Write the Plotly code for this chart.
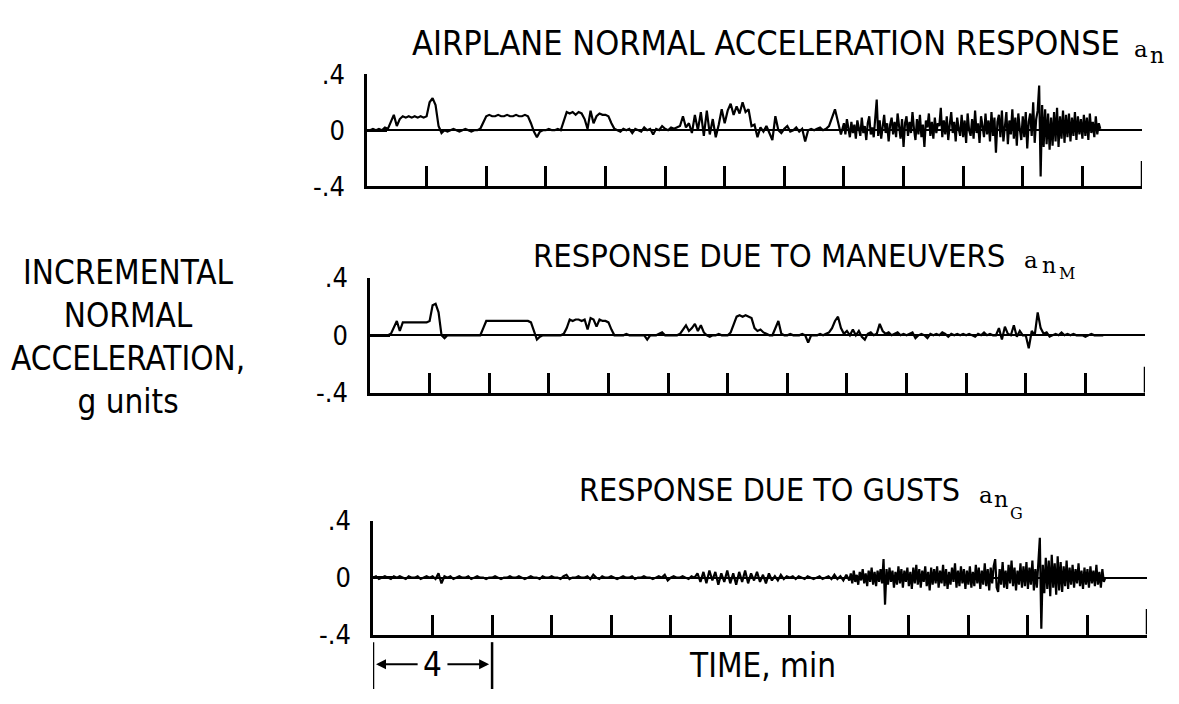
import numpy as np
import plotly.graph_objects as go

W, H = 1179, 704

# time grids (min)
time_full = np.round(np.arange(0, 24.65, 0.1), 2)        # 0.0 .. 24.6, 0.1 step
time_coarse = np.round(np.arange(0, 15.95, 0.1), 2)      # 0.0 .. 15.9, 0.1 step
time_fine = np.round(np.arange(16.0, 24.625, 0.05), 2)   # 16.0 .. 24.6, 0.05 step

# Panel 1: airplane normal acceleration response a_n (g units)
total_resp_coarse = [
    0.00, 0.00, 0.01, 0.00, 0.01, 0.00, 0.02, 0.01, 0.06, 0.11,
    0.03, 0.08, 0.10, 0.09, 0.10, 0.09, 0.10, 0.09, 0.10, 0.09,
    0.10, 0.20, 0.23, 0.18, 0.03, -0.02, 0.00, -0.01, 0.00, 0.01,
    0.00, -0.01, 0.00, 0.01, 0.00, -0.01, 0.00, 0.00, 0.01, 0.06,
    0.10, 0.11, 0.10, 0.10, 0.11, 0.10, 0.10, 0.11, 0.10, 0.10,
    0.11, 0.10, 0.10, 0.11, 0.10, 0.05, -0.01, -0.05, -0.01, 0.00,
    0.00, 0.01, 0.00, 0.00, 0.01, 0.00, 0.07, 0.13, 0.12, 0.13,
    0.11, 0.13, 0.12, 0.08, 0.01, 0.14, 0.05, 0.10, 0.12, 0.11,
    0.11, 0.10, 0.05, 0.01, 0.00, -0.01, 0.01, 0.00, 0.01, -0.02,
    0.01, 0.00, -0.01, 0.02, 0.00, 0.01, -0.03, 0.01, 0.00, 0.03,
    0.01, 0.00, 0.02, 0.01, 0.02, 0.03, 0.10, 0.02, 0.05, -0.02,
    0.11, 0.00, 0.13, -0.04, 0.14, -0.03, 0.08, -0.05, 0.04, 0.15,
    0.05, 0.14, 0.19, 0.11, 0.17, 0.12, 0.20, 0.13, 0.15, 0.03,
    0.04, -0.05, 0.02, -0.01, 0.03, -0.02, -0.07, 0.10, 0.00, -0.02,
    0.01, 0.03, -0.01, 0.00, 0.02, -0.01, 0.01, -0.08, 0.00, 0.01,
    0.00, 0.01, 0.02, 0.00, 0.01, 0.03, 0.09, 0.15, 0.06, -0.03,
]
total_resp_fine = [
    0.05, -0.03, 0.08, 0.01, -0.05, 0.06, -0.02, 0.04, -0.06, 0.07,
    0.00, -0.04, 0.09, -0.02, 0.03, -0.07, 0.05, 0.10, -0.03, 0.02,
    -0.05, 0.06, 0.22, -0.04, 0.07, -0.06, 0.03, 0.11, -0.02, 0.05,
    -0.08, 0.04, 0.09, -0.03, 0.06, -0.05, 0.12, 0.00, -0.06, 0.08,
    -0.12, 0.05, 0.10, -0.04, 0.06, -0.02, 0.13, 0.01, -0.07, 0.08,
    -0.03, 0.11, -0.05, 0.04, -0.12, 0.07, 0.02, 0.12, -0.04, 0.06,
    -0.06, 0.09, -0.02, 0.05, 0.03, 0.16, -0.05, 0.07, -0.03, 0.10,
    -0.07, 0.04, 0.13, -0.02, 0.06, -0.08, 0.09, 0.01, -0.04, 0.11,
    -0.05, 0.07, -0.09, 0.12, 0.00, -0.04, 0.08, -0.06, 0.14, -0.02,
    0.05, -0.09, 0.10, 0.03, -0.05, 0.12, -0.03, 0.07, -0.08, 0.13,
    -0.04, 0.09, -0.16, 0.06, 0.11, -0.05, 0.14, -0.08, 0.04, 0.13,
    -0.10, 0.07, -0.03, 0.15, -0.06, 0.09, -0.11, 0.12, 0.01, -0.07,
    0.10, -0.05, 0.13, -0.13, 0.06, 0.12, -0.04, 0.20, -0.09, 0.08,
    0.14, 0.32, -0.33, 0.18, -0.12, 0.15, -0.10, 0.12, -0.14, 0.09,
    -0.11, 0.13, -0.08, 0.16, -0.12, 0.10, -0.06, 0.14, -0.09, 0.11,
    -0.05, 0.12, -0.08, 0.09, -0.04, 0.13, -0.07, 0.10, -0.03, 0.08,
    -0.06, 0.11, -0.04, 0.09, -0.07, 0.12, -0.02, 0.06, -0.05, 0.10,
    -0.03, 0.05, 0.01,
]

# Panel 2: response due to maneuvers a_nM
maneuver_resp = [
    0.00, 0.00, 0.00, 0.00, 0.00, 0.00, 0.00, 0.01, 0.06, 0.10,
    0.03, 0.09, 0.09, 0.09, 0.09, 0.09, 0.09, 0.09, 0.09, 0.09,
    0.10, 0.21, 0.22, 0.16, 0.00, -0.02, 0.00, 0.00, 0.00, 0.00,
    0.00, 0.00, 0.00, 0.00, 0.00, 0.00, 0.00, 0.00, 0.05, 0.10,
    0.10, 0.10, 0.10, 0.10, 0.10, 0.10, 0.10, 0.10, 0.10, 0.10,
    0.10, 0.10, 0.10, 0.10, 0.09, 0.03, -0.03, -0.01, 0.00, 0.00,
    0.00, 0.00, 0.00, 0.00, 0.00, 0.01, 0.05, 0.11, 0.10, 0.11,
    0.11, 0.10, 0.11, 0.04, 0.12, 0.11, 0.06, 0.11, 0.10, 0.10,
    0.09, 0.04, 0.00, 0.00, 0.00, 0.00, 0.01, 0.00, 0.00, 0.00,
    0.00, 0.00, 0.00, -0.03, 0.00, 0.00, 0.00, 0.01, 0.02, 0.00,
    0.00, 0.00, 0.00, 0.00, 0.01, 0.04, 0.07, 0.03, 0.05, 0.08,
    0.03, 0.07, 0.02, 0.00, -0.01, 0.00, 0.00, 0.01, 0.00, 0.00,
    0.00, 0.02, 0.08, 0.13, 0.14, 0.13, 0.14, 0.13, 0.12, 0.05,
    0.03, 0.04, 0.02, 0.01, 0.00, 0.00, 0.05, 0.10, 0.01, 0.00,
    0.00, 0.01, 0.00, 0.00, 0.00, 0.01, 0.00, -0.05, 0.00, 0.00,
    0.00, 0.01, 0.00, 0.01, 0.02, 0.05, 0.10, 0.13, 0.05, 0.01,
    0.03, 0.00, 0.04, 0.00, 0.03, -0.01, -0.03, 0.01, 0.02, 0.00,
    0.01, 0.08, 0.03, 0.01, 0.02, 0.00, 0.01, 0.02, 0.00, 0.01,
    0.00, 0.01, 0.02, -0.02, 0.00, 0.01, 0.00, -0.02, 0.01, 0.00,
    0.01, 0.00, 0.02, 0.01, -0.01, 0.01, 0.00, 0.01, 0.00, 0.01,
    0.00, 0.01, 0.00, -0.01, 0.01, 0.00, 0.02, 0.00, 0.01, 0.00,
    0.00, 0.05, -0.03, 0.06, 0.01, 0.00, 0.07, -0.01, 0.03, 0.00,
    0.00, -0.09, 0.03, 0.00, 0.16, 0.05, 0.01, 0.02, -0.01, 0.00,
    0.01, 0.00, 0.02, 0.00, 0.01, 0.00, 0.01, 0.00, 0.00, 0.00,
    -0.01, 0.00, 0.01, 0.00, 0.00, 0.00, 0.00,
]

# Panel 3: response due to gusts a_nG
gust_resp_coarse = [
    0.00, 0.01, -0.01, 0.00, 0.01, 0.00, -0.01, 0.01, 0.00, 0.01,
    0.00, -0.01, 0.01, 0.00, 0.00, 0.01, -0.01, 0.00, 0.01, 0.00,
    0.01, -0.01, 0.03, -0.04, 0.01, 0.00, 0.01, -0.01, 0.00, 0.01,
    0.00, 0.00, 0.01, -0.01, 0.00, 0.01, 0.00, 0.00, -0.01, 0.00,
    0.00, 0.01, 0.00, -0.01, 0.00, 0.00, 0.01, 0.00, 0.00, 0.01,
    0.00, -0.01, 0.00, 0.01, 0.00, 0.00, -0.01, 0.01, 0.00, 0.00,
    0.01, 0.00, 0.00, -0.01, 0.01, 0.02, -0.01, 0.00, 0.00, 0.01,
    0.00, 0.00, 0.01, -0.01, 0.02, 0.00, -0.01, 0.01, 0.00, 0.00,
    0.01, 0.00, -0.01, 0.00, 0.01, 0.00, 0.00, 0.01, -0.01, 0.00,
    0.00, 0.01, 0.00, 0.00, -0.01, 0.00, 0.01, 0.00, 0.02, -0.02,
    0.00, 0.01, 0.00, 0.00, 0.01, 0.00, -0.01, 0.01, 0.00, 0.03,
    -0.03, 0.04, -0.04, 0.05, -0.02, 0.04, -0.05, 0.03, -0.03, 0.05,
    -0.04, 0.03, -0.05, 0.04, -0.03, 0.05, -0.04, 0.03, -0.02, 0.04,
    -0.03, 0.02, -0.04, 0.03, -0.02, 0.01, -0.02, 0.02, -0.01, 0.01,
    0.00, 0.01, -0.01, 0.01, 0.00, -0.01, 0.01, 0.00, -0.01, 0.00,
    0.01, -0.01, 0.00, 0.01, -0.01, 0.02, -0.01, 0.01, -0.02, 0.02,
]
gust_resp_fine = [
    -0.02, 0.03, -0.04, 0.05, -0.03, 0.02, -0.05, 0.04, -0.02, 0.06,
    -0.04, 0.03, -0.06, 0.05, -0.03, 0.07, -0.05, 0.04, -0.06, 0.05,
    -0.03, 0.06, -0.04, 0.13, -0.19, 0.06, -0.05, 0.07, -0.03, 0.05,
    -0.07, 0.04, -0.05, 0.08, -0.04, 0.06, -0.07, 0.05, -0.03, 0.07,
    -0.06, 0.04, -0.08, 0.07, -0.04, 0.09, -0.05, 0.06, -0.07, 0.05,
    -0.03, 0.08, -0.06, 0.04, -0.09, 0.07, -0.05, 0.06, -0.04, 0.08,
    -0.07, 0.05, -0.04, 0.09, -0.06, 0.06, -0.08, 0.04, -0.05, 0.07,
    -0.03, 0.10, -0.07, 0.05, -0.06, 0.08, -0.04, 0.06, -0.08, 0.05,
    -0.05, 0.08, -0.07, 0.04, -0.06, 0.09, -0.04, 0.07, -0.08, 0.05,
    -0.05, 0.10, -0.06, 0.06, -0.09, 0.07, -0.04, 0.08, 0.13, -0.07,
    -0.10, 0.06, -0.05, 0.11, -0.07, 0.05, -0.08, 0.09, -0.04, 0.12,
    -0.06, 0.07, -0.09, 0.05, -0.05, 0.10, -0.07, 0.08, -0.06, 0.11,
    -0.08, 0.07, -0.05, 0.12, -0.09, 0.06, -0.07, 0.10, 0.28, -0.36,
    0.09, -0.11, 0.14, -0.08, 0.12, -0.13, 0.16, -0.07, 0.10, -0.12,
    0.15, -0.09, 0.11, -0.10, 0.08, -0.06, 0.12, -0.08, 0.07, -0.05,
    0.09, -0.07, 0.06, -0.04, 0.10, -0.06, 0.05, -0.08, 0.07, -0.05,
    0.06, -0.07, 0.08, -0.04, 0.05, -0.06, 0.09, -0.05, 0.04, -0.07,
    0.06, -0.03, 0.00,
]

y_tickvals = [0.4, 0.0, -0.4]
y_ticktext = [".4", "0", "-.4"]
x_tickvals = [2, 4, 6, 8, 10, 12, 14, 16, 18, 20, 22, 24]
x_end = 26
scale_bar_min = 4

panel_titles = ["AIRPLANE NORMAL ACCELERATION RESPONSE",
                "RESPONSE DUE TO MANEUVERS",
                "RESPONSE DUE TO GUSTS"]
panel_subs = ["", "M", "G"]
y_label_lines = ["INCREMENTAL", "NORMAL", "ACCELERATION,", "g units"]
x_label = "TIME, min"

SANS = "Liberation Sans Narrow, DejaVu Sans Condensed, Arial Narrow, sans-serif"
SERIF = "DejaVu Serif, Liberation Serif, serif"


def px(x):
    return x / W


def py(y):
    return 1 - y / H


# layout geometry in pixels
boxes = [(367, 1142, 61, 178), (370, 1145, 274, 394), (373, 1147, 528, 647)]
title_pos = [(410, 28), (531, 251), (577, 496)]
title_size = [34, 32.5, 32]
# positions of "a", "n" and the second-level subscript: (x, y_center)
sub_a = [(1132, 35), (1022, 255), (977, 501)]
sub_n = [(1148, 41), (1040, 261), (992, 506)]
sub_2 = [None, (1057, 269), (1008, 520)]

fig = go.Figure()
series = [
    (np.concatenate([time_coarse, time_fine]), total_resp_coarse + total_resp_fine),
    (time_full, maneuver_resp),
    (np.concatenate([time_coarse, time_fine]), gust_resp_coarse + gust_resp_fine),
]
for i, (tx, vals) in enumerate(series):
    assert len(tx) == len(vals)
    fig.add_trace(go.Scatter(
        x=tx, y=vals, mode="lines",
        line=dict(color="black", width=2.2),
        xaxis=f"x{i + 1}" if i else "x", yaxis=f"y{i + 1}" if i else "y",
        showlegend=False, hoverinfo="skip"))

layout = dict(
    width=W, height=H, margin=dict(l=0, r=0, t=0, b=0),
    paper_bgcolor="white", plot_bgcolor="white",
    showlegend=False,
)
annotations = []
shapes = []


def note(text, x, y, size, family=SANS, xanchor="left"):
    annotations.append(dict(text=text, x=px(x), y=py(y), xref="paper",
                            yref="paper", xanchor=xanchor, yanchor="middle",
                            showarrow=False, align="center",
                            font=dict(family=family, size=size, color="black")))


for i, (l, r, t, b) in enumerate(boxes):
    sfx = "" if i == 0 else str(i + 1)
    layout[f"xaxis{sfx}"] = dict(
        domain=[px(l), px(r)], range=[0, x_end], anchor=f"y{sfx}",
        showgrid=False, zeroline=False, showline=True, linecolor="black",
        linewidth=2.5, ticks="inside", ticklen=20, tickwidth=2.5,
        tickcolor="black", tickvals=x_tickvals, showticklabels=False)
    layout[f"yaxis{sfx}"] = dict(
        domain=[py(b), py(t)], range=[-0.4, 0.4], anchor=f"x{sfx}",
        showgrid=False, zeroline=True, zerolinecolor="black",
        zerolinewidth=2, showline=True, linecolor="black", linewidth=2.5,
        ticks="inside", ticklen=20, tickwidth=2.5, tickcolor="black",
        tickvals=y_tickvals, ticktext=y_ticktext,
        tickfont=dict(family=SANS, size=27, color="black"),
        ticklabelstandoff=14)
    # taller end tick at the right end of the time axis
    shapes.append(dict(type="line", xref=f"x{sfx}", yref=f"y{sfx}",
                       x0=x_end, x1=x_end, y0=-0.4, y1=-0.22,
                       line=dict(color="black", width=2.5)))
    note(panel_titles[i], title_pos[i][0], title_pos[i][1], title_size[i])
    note("a", sub_a[i][0], sub_a[i][1], 23, SERIF)
    note("n", sub_n[i][0], sub_n[i][1], 22, SERIF)
    if sub_2[i]:
        note(panel_subs[i], sub_2[i][0], sub_2[i][1], 16, SERIF)

# y-axis label on the left
note("<br>".join(y_label_lines), 128, 336, 33, xanchor="center")
# time label
note(x_label, 762, 679, 33, xanchor="center")

# 4-minute scale bar below the bottom panel
for xv in (0, scale_bar_min):
    shapes.append(dict(type="line", xref="x3", yref="paper", x0=xv, x1=xv,
                       y0=py(704), y1=py(655),
                       line=dict(color="black", width=2.5)))
annotations.append(dict(text=str(scale_bar_min), x=scale_bar_min / 2,
                        xref="x3", y=py(678), yref="paper", showarrow=False,
                        xanchor="center", yanchor="middle",
                        font=dict(family=SANS, size=33, color="black")))
annotations.append(dict(text="", x=0.1, xref="x3", y=py(678), yref="paper",
                        showarrow=True, ax=1.55, axref="x3", ay=0,
                        ayref="pixel", arrowhead=2, arrowsize=1, arrowwidth=2,
                        arrowcolor="black"))
annotations.append(dict(text="", x=3.9, xref="x3", y=py(678), yref="paper",
                        showarrow=True, ax=2.45, axref="x3", ay=0,
                        ayref="pixel", arrowhead=2, arrowsize=1, arrowwidth=2,
                        arrowcolor="black"))

layout["annotations"] = annotations
layout["shapes"] = shapes
fig.update_layout(**layout)
fig.write_html("out.html")
